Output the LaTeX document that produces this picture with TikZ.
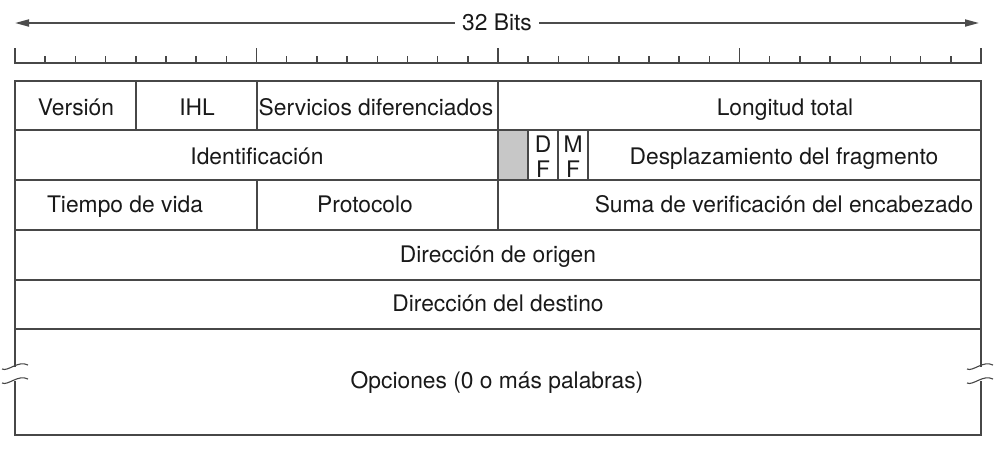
\documentclass[tikz,border=0pt]{standalone}
\usepackage{fontspec}
\setmainfont{TeX Gyre Heros}
\usetikzlibrary{arrows.meta}
\begin{document}
\begin{tikzpicture}[x=0.5pt,y=-0.5pt,
every node/.style={anchor=base,
inner sep=0pt,
text height=8.2pt,
text depth=0pt,
font=\fontsize{11.4}{12.5}\selectfont,
text=black!90
},
hdrline/.style={%
line width=0.75pt,draw=black!72,line cap=rect
},
flagline/.style={%
line width=0.55pt,draw=black!72
},
bitarrow/.style={%
line width=0.9pt,draw=black!70,-{Triangle[length=7pt,width=3.5pt]}
}]
\useasboundingbox (0,0) rectangle (1000,456);
% bit ruler
\node[inner xsep=3.5pt]at(497,30)(bits){32 Bits};
\coordinate(lend)at(15,23);
\coordinate(rend)at(979,23);
\draw[bitarrow](bits.west|-lend)--(lend);
\draw[bitarrow](bits.east|-rend)--(rend);
\draw[hdrline](15,63)--(981,63);
\foreach \i in {0,...,32} \draw[hdrline](15+\i*30.1875,63)--(15+\i*30.1875,57);
\foreach \i in {0,8,...,32} \draw[hdrline](15+\i*30.1875,63)--(15+\i*30.1875,49);
% header fields
\fill[black!22](498,130)rectangle(528,180);
\draw[hdrline](15,81)--(981,81);
\foreach \y in {130,180,230,280,329} \draw[hdrline](15,\y)--(981,\y);
\draw[hdrline](15,435)--(981,435);
\draw[hdrline](15,81)--(15,366) (15,382)--(15,435);
\draw[hdrline](981,81)--(981,366) (981,382)--(981,435);
\draw[hdrline](136,81)--(136,130) (257,81)--(257,130) (257,180)--(257,230) (498,81)--(498,230);
\draw[flagline](528,130)--(528,180) (558,130)--(558,180) (588,130)--(588,180);
\foreach \x in {2,967} \foreach \y in {369,383} \draw[flagline](\x,\y)..controls(\x+6,\y+3)and(\x+16,\y-9)..(\x+26,\y-4);
\node[]at(76,115)(ver){Versión};
\node[]at(197,115)(ihl){IHL};
\node[]at(376,115)(serv){Servicios diferenciados};
\node[]at(785,115)(lon){Longitud total};
\node[]at(257,164)(ident){Identificación};
\node[align=center]at(543,177)(df){D\\F};
\node[align=center]at(573,177)(mf){M\\F};
\node[]at(784,164)(desp){Desplazamiento del fragmento};
\node[]at(125,212)(ttl){Tiempo de vida};
\node[]at(365,212)(prot){Protocolo};
\node[]at(784,212)(suma){Suma de verificación del encabezado};
\node[]at(498,262)(orig){Dirección de origen};
\node[]at(498,311)(dest){Dirección del destino};
\node[]at(497,388)(opc){Opciones (0 o más palabras)};
\end{tikzpicture}
\end{document}
